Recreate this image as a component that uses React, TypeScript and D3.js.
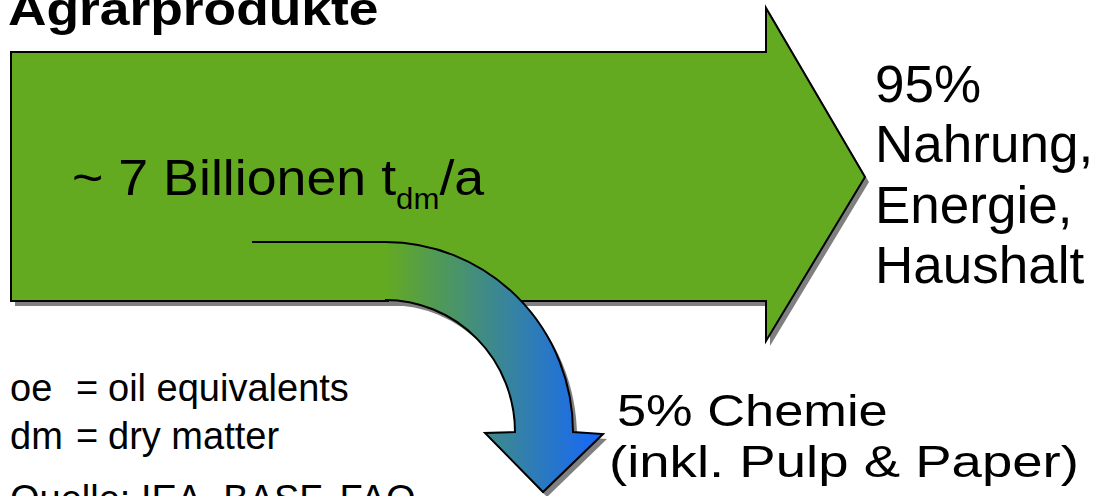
import React from "react";
import * as d3 from "d3";

const W = 1097;
const H = 496;

const title = "Agrarprodukte";
const flowTotal = ["~ 7 Billionen t", "dm", "/a"];
const mainShare = ["95%", "Nahrung,", "Energie,", "Haushalt"];
const minorShare = ["5% Chemie", "(inkl. Pulp & Paper)"];
const glossaryAbbr = ["oe", "dm"];
const glossaryText = ["oil equivalents", "dry matter"];
const sourceLine = "Quelle: IEA, BASF, FAO";

const GREEN = "#64aa21";
const BLUE = "#1466ff";
const SHADOW = "#808080";
const FONT = "'Liberation Sans', Arial, Helvetica, sans-serif";

function T({ x, y, sx = 1, size, bold = false, children }: any) {
  return (
    <g transform={`translate(${x},${y}) scale(${sx},1)`}>
      <text x={0} y={0} fontFamily={FONT} fontSize={size} fontWeight={bold ? "bold" : "normal"}>
        {children}
      </text>
    </g>
  );
}

export default function App() {
  const bigArrow = d3.path();
  bigArrow.moveTo(11, 52);
  bigArrow.lineTo(766, 52);
  bigArrow.lineTo(766, 8);
  bigArrow.lineTo(865, 177);
  bigArrow.lineTo(766, 341);
  bigArrow.lineTo(766, 301);
  bigArrow.lineTo(11, 301);
  bigArrow.closePath();

  const cx = 385;
  const cy = 432;
  const ro = { x: 188, y: 190 };
  const ri = { x: 130, y: 132 };
  const openD =
    `M${cx},${cy - ro.y} A${ro.x},${ro.y} 0 0 1 ${cx + ro.x},${cy} ` +
    `L603,434 L543,492 L485,433 L${cx + ri.x},${cy} ` +
    `A${ri.x},${ri.y} 0 0 0 ${cx},${cy - ri.y}`;
  const closedD = openD + " Z";

  return (
    <svg width={W} height={H} style={{ position: "absolute", left: 0, top: 0, background: "#fff" }}>
      <defs>
        <linearGradient id="curveGrad" gradientUnits="userSpaceOnUse" x1={cx} y1={0} x2={605} y2={0}>
          <stop offset="0" stopColor={GREEN} />
          <stop offset="1" stopColor={BLUE} />
        </linearGradient>
      </defs>
      <rect x={0} y={0} width={W} height={H} fill="#fff" />

      <T x={8} y={25} sx={1.16} size={46} bold>{title}</T>

      <path d={bigArrow.toString()} fill={SHADOW} transform="translate(4,5)" />
      <path d={bigArrow.toString()} fill={GREEN} stroke="#000" strokeWidth={2} />

      <path d={closedD} fill={SHADOW} transform="translate(4,5)" />
      <path d={closedD} fill="url(#curveGrad)" />
      <path d={openD} fill="none" stroke="#000" strokeWidth={2} />
      <line x1={252} y1={242} x2={cx} y2={242} stroke="#000" strokeWidth={2} />

      <T x={72} y={195} sx={1.075} size={50}>
        <tspan>{flowTotal[0]}</tspan>
        <tspan dy={14} fontSize={29}>{flowTotal[1]}</tspan>
        <tspan dy={-14} fontSize={50}>{flowTotal[2]}</tspan>
      </T>

      {mainShare.map((t, i) => (
        <T key={t} x={875} y={102 + i * 60.3} sx={1.04} size={51}>{t}</T>
      ))}

      <T x={617} y={426} sx={1.19} size={44}>{minorShare[0]}</T>
      <T x={609} y={477} sx={1.24} size={44}>{minorShare[1]}</T>

      {glossaryAbbr.map((a, i) => (
        <g key={a}>
          <T x={10} y={401 + i * 48} size={38}>{a}</T>
          <T x={76} y={401 + i * 48} size={38}>=</T>
          <T x={108} y={401 + i * 48} size={38}>{glossaryText[i]}</T>
        </g>
      ))}
      <T x={10} y={512} size={38}>{sourceLine}</T>
    </svg>
  );
}
